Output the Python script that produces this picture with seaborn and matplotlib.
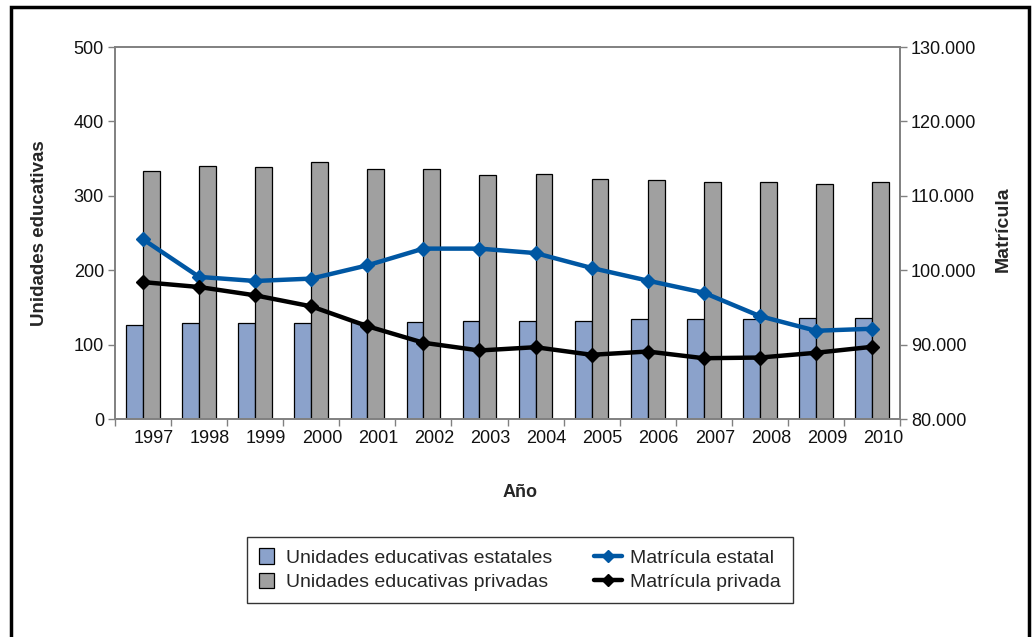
import pandas as pd
import numpy as np
import matplotlib.pyplot as plt
import matplotlib.ticker as mticker
import matplotlib.transforms as mtransforms
from matplotlib.patches import Rectangle
from matplotlib.legend_handler import HandlerPatch
import seaborn as sns

# --- data ---
years = ['1997', '1998', '1999', '2000', '2001', '2002', '2003',
         '2004', '2005', '2006', '2007', '2008', '2009', '2010']
unid_estatales = [127, 129, 129, 129, 130, 131, 132, 132, 132, 134, 135, 135, 136, 136]
unid_privadas = [333, 340, 339, 345, 336, 336, 328, 329, 323, 321, 319, 318, 316, 318]
matr_estatal = [104150, 99100, 98550, 98870, 100650, 102900, 102900,
                102300, 100300, 98600, 96980, 93830, 91860, 92130]
matr_privada = [98400, 97740, 96620, 95140, 92480, 90250, 89210,
                89650, 88630, 89070, 88170, 88260, 88900, 89700]

df = pd.DataFrame({
    'Año': years * 2,
    'Unidades': unid_estatales + unid_privadas,
    'Tipo': ['Unidades educativas estatales'] * len(years) + ['Unidades educativas privadas'] * len(years),
})

sns.set_theme(style='white')
plt.rcParams['font.family'] = ['Liberation Sans', 'DejaVu Sans']
FS = 13

fig = plt.figure(figsize=(10.35, 6.37), dpi=100)
ax = fig.add_axes([115 / 1035, 1 - 419 / 637, 785 / 1035, 372 / 637])

sns.barplot(data=df, x='Año', y='Unidades', hue='Tipo',
            palette=['#8BA2CB', '#A0A0A0'], width=0.6, edgecolor='black',
            linewidth=0.9, saturation=1, ax=ax)
bar_handles, bar_labels = ax.get_legend_handles_labels()
ax.get_legend().remove()

ax.set_ylim(0, 500)
ax.set_xlim(-0.5, len(years) - 0.5)
ax.set_yticks(range(0, 501, 100))

ax2 = ax.twinx()
xpos = np.arange(len(years))
l1, = ax2.plot(xpos, matr_estatal, color='#0057A3', lw=3.2, marker='D', ms=7.5,
               label='Matrícula estatal')
l2, = ax2.plot(xpos, matr_privada, color='black', lw=3.2, marker='D', ms=7.5,
               label='Matrícula privada')
ax2.set_ylim(80000, 130000)
ax2.set_yticks(range(80000, 130001, 10000))
ax2.yaxis.set_major_formatter(mticker.FuncFormatter(lambda v, p: f'{int(v):,}'.replace(',', '.')))

# axis styling (Excel-like)
for a in (ax, ax2):
    for s in a.spines.values():
        s.set_color('#808080')
        s.set_linewidth(1.2)
ax.tick_params(axis='y', which='major', direction='out', length=5, width=1, color='#808080',
               labelsize=FS, left=True, pad=3, labelcolor='#111111')
ax2.tick_params(axis='y', which='major', direction='out', length=5, width=1, color='#808080',
                labelsize=FS, right=True, pad=3, labelcolor='#111111')
ax.set_xticks(np.arange(-0.5, len(years), 1.0), minor=True)
ax.tick_params(axis='x', which='major', length=0, labelsize=FS, pad=8, labelcolor='#111111')
ax.tick_params(axis='x', which='minor', direction='out', length=5, width=1, color='#808080', bottom=True)
ax.grid(False)
ax2.grid(False)

# year labels sit a little right of the category centre in the original
shift = mtransforms.ScaledTranslation(11 / 100, 0, fig.dpi_scale_trans)
for lab in ax.get_xticklabels():
    lab.set_transform(lab.get_transform() + shift)

ax.set_xlabel('Año', fontsize=FS, fontweight='bold')
ax.xaxis.set_label_coords(0.516, -0.175)
ax.set_ylabel('Unidades educativas', fontsize=13.5, fontweight='bold')
ax.yaxis.set_label_coords(-0.085, 0.5)
ax2.set_ylabel('Matrícula', fontsize=14, fontweight='bold', rotation=90)
ax2.yaxis.set_label_coords(1.121, 0.51)


def square_patch(legend, orig_handle, xdescent, ydescent, width, height, fontsize):
    side = height * 1.05
    return Rectangle((-xdescent, -ydescent + (height - side) / 2), side * 0.95, side)


LFS = 14
leg = fig.legend(bar_handles + [l1, l2], bar_labels + ['Matrícula estatal', 'Matrícula privada'],
                 loc='center', bbox_to_anchor=(520 / 1035, 1 - 570 / 637), ncol=2,
                 fontsize=LFS, frameon=True, fancybox=False, edgecolor='black',
                 handlelength=0.95, handleheight=0.78, handletextpad=0.45,
                 columnspacing=2.6, borderpad=0.6, labelspacing=0.33,
                 handler_map={type(bar_handles[0]): HandlerPatch(patch_func=square_patch)})
leg.get_frame().set_linewidth(1.0)
for h in leg.legend_handles[2:]:
    h.set_linewidth(3.2)
    h.set_markersize(6.5)
    xd = np.asarray(h.get_xdata(), dtype=float)
    w = xd[-1] - xd[0]
    x0 = xd[0] - 0.5 * w
    h.set_xdata([x0, (x0 + xd[-1]) / 2, xd[-1]])

# outer frame around the chart
fig.patches.append(Rectangle((11 / 1035, -0.05), 1018 / 1035, 1.05 - 7 / 637,
                             transform=fig.transFigure, fill=False, edgecolor='black', lw=2.5))

plt.savefig('out.png', dpi=100)
print('saved out.png')
